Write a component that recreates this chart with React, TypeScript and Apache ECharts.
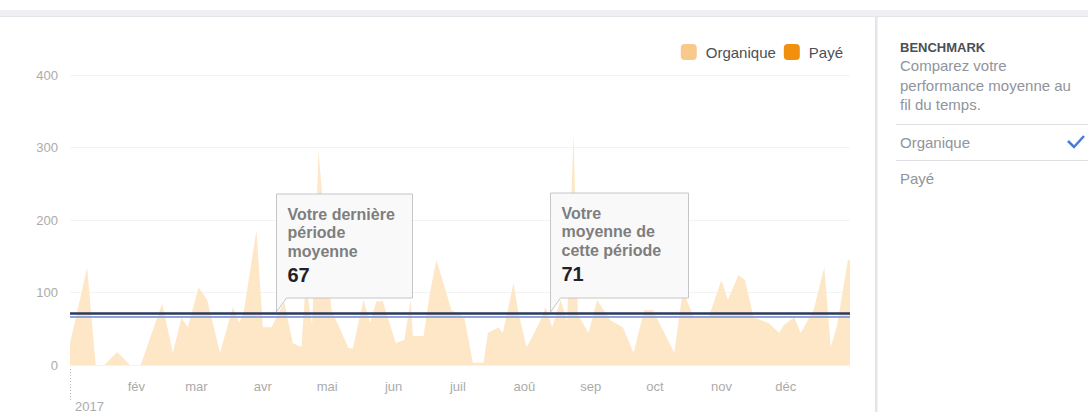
import React, { useEffect, useRef } from "react";
import * as echarts from "echarts";

const dates: string[] = [
  "2017-01-01", "2017-01-09", "2017-01-13", "2017-01-17", "2017-01-23", "2017-01-29", "2017-02-03",
  "2017-02-13", "2017-02-18", "2017-02-22", "2017-02-25", "2017-03-02", "2017-03-06", "2017-03-12",
  "2017-03-18", "2017-03-21", "2017-03-23", "2017-03-29", "2017-04-01", "2017-04-05", "2017-04-11",
  "2017-04-15", "2017-04-19", "2017-04-21", "2017-04-24", "2017-04-27", "2017-05-03", "2017-05-11",
  "2017-05-13", "2017-05-18", "2017-05-21", "2017-05-24", "2017-05-27", "2017-06-02", "2017-06-06",
  "2017-06-09", "2017-06-10", "2017-06-15", "2017-06-18", "2017-06-21", "2017-06-28", "2017-07-04",
  "2017-07-08", "2017-07-13", "2017-07-15", "2017-07-20", "2017-07-22", "2017-07-27", "2017-07-29",
  "2017-08-02", "2017-08-04", "2017-08-08", "2017-08-11", "2017-08-14", "2017-08-18", "2017-08-21",
  "2017-08-24", "2017-08-26", "2017-08-31", "2017-09-04", "2017-09-10", "2017-09-16", "2017-09-21",
  "2017-09-26", "2017-09-30", "2017-10-04", "2017-10-10", "2017-10-14", "2017-10-19", "2017-10-26",
  "2017-11-01", "2017-11-04", "2017-11-09", "2017-11-12", "2017-11-16", "2017-11-23", "2017-11-28",
  "2017-11-30", "2017-12-05", "2017-12-08", "2017-12-14", "2017-12-19", "2017-12-22", "2017-12-25",
  "2017-12-30", "2017-12-31",
];

const organique: number[] = [
  30, 134, 0, 0, 18, 0, 0,
  85, 17, 65, 52, 107, 90, 17,
  80, 58, 72, 186, 52, 52, 87,
  30, 25, 113, 55, 295, 76, 23,
  23, 90, 58, 88, 88, 30, 35,
  90, 40, 40, 100, 145, 76, 66,
  3, 3, 44, 52, 44, 113, 76,
  25, 35, 58, 80, 52, 90, 60,
  320, 70, 44, 90, 62, 52, 17,
  76, 76, 52, 17, 103, 66, 66,
  117, 90, 124, 117, 66, 58, 44,
  55, 66, 44, 76, 135, 25, 55,
  145, 145,
];

const paye: number[] = [];

const monthLabels: string[] = ["", "fév", "mar", "avr", "mai", "jun", "juil", "aoû", "sep", "oct", "nov", "déc"];
const yearLabel = "2017";

const benchmarkLast = 67;
const benchmarkCurrent = 71;

const tipLast = { date: "2017-04-07", lines: ["Votre dernière", "période", "moyenne"], value: benchmarkLast };
const tipCurrent = { date: "2017-08-13", lines: ["Votre", "moyenne de", "cette période"], value: benchmarkCurrent };

const FONT = "'Liberation Sans', Arial, Helvetica, sans-serif";

function ts(d: string): number {
  const [y, m, day] = d.split("-").map(Number);
  return new Date(y, m - 1, day).getTime();
}

function tooltipGraphic(tip: number[], w: number, h: number, lines: string[], num: number) {
  const left = Math.round(tip[0]) + 0.5;
  const bottom = Math.round(tip[1]) - 16;
  const top = bottom - h;
  const children: any[] = [
    {
      type: "polygon",
      shape: { points: [[0, 0], [w, 0], [w, h], [10, h], [0, h + 14]] },
      style: { fill: "#f9f9f9", stroke: "#c6c6c6", lineWidth: 1 },
      z: 100,
    },
  ];
  lines.forEach((t, i) => {
    children.push({
      type: "text",
      x: 11,
      y: 20 + i * 18.8,
      style: { text: t, fill: "#7e7e7e", font: `bold 16px ${FONT}`, verticalAlign: "middle" },
      z: 101,
    });
  });
  children.push({
    type: "text",
    x: 11,
    y: 20 + lines.length * 18.8 + 5,
    style: { text: String(num), fill: "#1f2329", font: `bold 20px ${FONT}`, verticalAlign: "middle" },
    z: 101,
  });
  return { type: "group", x: left, y: top, children, z: 100 };
}

export default function App() {
  const ref = useRef<HTMLDivElement>(null);

  useEffect(() => {
    if (!ref.current) return;
    const chart = echarts.init(ref.current, null, { renderer: "svg" });
    const seriesData = dates.map((d, i) => [ts(d), organique[i]]);

    chart.setOption({
      animation: false,
      backgroundColor: "#ffffff",
      grid: { left: 70, right: 238, top: 75, bottom: 47 },
      legend: {
        data: ["Organique", "Payé"],
        right: 240,
        top: 39,
        icon: "roundRect",
        itemWidth: 16,
        itemHeight: 16,
        itemGap: 8,
        textStyle: { color: "#4b4f56", fontSize: 15, fontFamily: FONT, padding: [0, 0, 0, 4] },
      },
      xAxis: {
        type: "time",
        min: ts("2017-01-01"),
        max: ts("2017-12-31"),
        splitNumber: 12,
        minInterval: 28 * 86400000,
        maxInterval: 31 * 86400000,
        axisLine: { show: false },
        axisTick: { show: false },
        splitLine: { show: false },
        axisLabel: {
          color: "#ababab",
          fontSize: 13,
          fontFamily: FONT,
          margin: 15,
          showMinLabel: true,
          showMaxLabel: false,
          hideOverlap: false,
          formatter: (val: number) => {
            const d = new Date(val);
            return d.getDate() === 1 ? monthLabels[d.getMonth()] : "";
          },
        },
      },
      yAxis: {
        type: "value",
        min: 0,
        max: 400,
        interval: 100,
        axisLine: { show: false },
        axisTick: { show: false },
        splitLine: { lineStyle: { color: "#f3f3f3", width: 1 } },
        axisLabel: { color: "#ababab", fontSize: 13, fontFamily: FONT, margin: 12 },
      },
      series: [
        {
          name: "Organique",
          type: "line",
          data: seriesData,
          showSymbol: false,
          symbol: "none",
          itemStyle: { color: "#f9c98b" },
          lineStyle: { width: 0, color: "#fde6c4" },
          areaStyle: { color: "#fde7c7", opacity: 1 },
          z: 2,
          markLine: {
            silent: true,
            symbol: "none",
            label: { show: false },
            data: [
              { yAxis: benchmarkLast, lineStyle: { color: "#8fa5d7", width: 2, type: "solid" } },
              { yAxis: benchmarkCurrent, lineStyle: { color: "#2d3a5c", width: 2.5, type: "solid" } },
            ],
          },
        },
        {
          name: "Payé",
          type: "line",
          data: paye,
          showSymbol: false,
          itemStyle: { color: "#f0900e" },
          lineStyle: { color: "#f0900e" },
          areaStyle: { color: "#f0900e" },
        },
      ],
    });

    const p1 = chart.convertToPixel({ xAxisIndex: 0, yAxisIndex: 0 }, [ts(tipLast.date), benchmarkCurrent]) as number[];
    const p2 = chart.convertToPixel({ xAxisIndex: 0, yAxisIndex: 0 }, [ts(tipCurrent.date), benchmarkCurrent]) as number[];
    const x0 = chart.convertToPixel({ xAxisIndex: 0 }, ts("2017-01-01")) as number;

    const panelX = 900;
    const panelText = (t: string, y: number, bold = false, color = "#90949c", size = 15) => ({
      type: "text",
      x: panelX,
      y,
      style: { text: t, fill: color, font: `${bold ? "bold " : ""}${size}px ${FONT}`, verticalAlign: "middle" },
    });

    chart.setOption({
      graphic: [
        { type: "rect", shape: { x: 0, y: 10, width: 1088, height: 7 }, style: { fill: "#eff0f4" } },
        { type: "line", shape: { x1: 0, y1: 16.5, x2: 1088, y2: 16.5 }, style: { stroke: "#e2e4e9", lineWidth: 1 } },
        { type: "rect", shape: { x: 875, y: 17, width: 2, height: 395 }, style: { fill: "#e4e5e8" } },
        { type: "rect", shape: { x: 877, y: 17, width: 1, height: 395 }, style: { fill: "#f2f2f4" } },
        panelText("BENCHMARK", 47, true, "#4b4f56", 13),
        panelText("Comparez votre", 65),
        panelText("performance moyenne au", 85),
        panelText("fil du temps.", 104),
        { type: "line", shape: { x1: 896, y1: 124.5, x2: 1088, y2: 124.5 }, style: { stroke: "#dddfe2", lineWidth: 1 } },
        panelText("Organique", 142),
        {
          type: "polyline",
          shape: { points: [[1068, 141], [1074, 147], [1084, 136]] },
          style: { stroke: "#4a7bd6", lineWidth: 2.5, fill: "none" },
        },
        { type: "line", shape: { x1: 896, y1: 160.5, x2: 1088, y2: 160.5 }, style: { stroke: "#dddfe2", lineWidth: 1 } },
        panelText("Payé", 178),
        {
          type: "line",
          shape: { x1: x0 + 0.5, y1: 369, x2: x0 + 0.5, y2: 402 },
          style: { stroke: "#b8b8b8", lineWidth: 1, lineDash: [1, 2] },
        },
        {
          type: "text",
          x: x0 + 5,
          y: 406,
          style: { text: yearLabel, fill: "#ababab", font: `13px ${FONT}`, verticalAlign: "middle" },
        },
        tooltipGraphic(p1, 136, 104, tipLast.lines, tipLast.value),
        tooltipGraphic(p2, 138, 105, tipCurrent.lines, tipCurrent.value),
      ],
    });

    return () => chart.dispose();
  }, []);

  return (
    <div
      ref={ref}
      style={{ position: "fixed", left: 0, top: 0, width: 1088, height: 412, background: "#fff" }}
    />
  );
}
